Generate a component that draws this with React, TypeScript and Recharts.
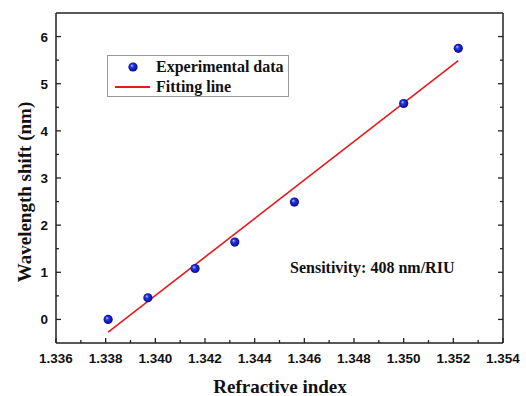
import React from 'react'
import { ScatterChart, Scatter, XAxis, YAxis } from 'recharts'

const refractiveIndex = [1.3381, 1.3397, 1.3416, 1.3432, 1.3456, 1.35, 1.3522]
const wavelengthShift = [0.0, 0.46, 1.08, 1.64, 2.49, 4.58, 5.75]

// linear fit end points (408 nm/RIU)
const fitIndex = [1.3381, 1.3522]
const fitShift = [-0.27, 5.49]

const xMajorTicks = [1.336, 1.338, 1.34, 1.342, 1.344, 1.346, 1.348, 1.35, 1.352, 1.354]
const xMinorTicks = [1.337, 1.339, 1.341, 1.343, 1.345, 1.347, 1.349, 1.351, 1.353]
const yMajorTicks = [0, 1, 2, 3, 4, 5, 6]
const yMinorTicks = [0.5, 1.5, 2.5, 3.5, 4.5, 5.5]

const expData = refractiveIndex.map((x, i) => ({ x, y: wavelengthShift[i] }))
const fitData = fitIndex.map((x, i) => ({ x, y: fitShift[i] }))

const xTicks = [...xMajorTicks, ...xMinorTicks]
const yTicks = [...yMajorTicks, ...yMinorTicks]

const SANS = '"Liberation Sans", Arial, sans-serif'
const SERIF = '"Liberation Serif", "Times New Roman", serif'
const AXIS = '#222'

const isMajor = (list: number[], v: number) => list.some((m) => Math.abs(m - v) < 1e-7)

const BottomTick = (props: any) => {
  const { x, y, payload } = props
  const major = isMajor(xMajorTicks, payload.value)
  return (
    <g>
      <line x1={x} x2={x} y1={y} y2={y - (major ? 5 : 3)} stroke={AXIS} strokeWidth={1.3} />
      {major && (
        <text x={x} y={y + 20} textAnchor="middle" fontFamily={SANS} fontWeight="bold" fontSize={13.5} fill="#111">
          {payload.value.toFixed(3)}
        </text>
      )}
    </g>
  )
}

const TopTick = (props: any) => {
  const { x, y, payload } = props
  const major = isMajor(xMajorTicks, payload.value)
  return <line x1={x} x2={x} y1={y} y2={y + (major ? 5 : 3)} stroke={AXIS} strokeWidth={1.3} />
}

const LeftTick = (props: any) => {
  const { x, y, payload } = props
  const major = isMajor(yMajorTicks, payload.value)
  return (
    <g>
      <line x1={x} x2={x + (major ? 5 : 3)} y1={y} y2={y} stroke={AXIS} strokeWidth={1.3} />
      {major && (
        <text x={x - 8} y={y + 5} textAnchor="end" fontFamily={SANS} fontWeight="bold" fontSize={13.5} fill="#111">
          {payload.value}
        </text>
      )}
    </g>
  )
}

const RightTick = (props: any) => {
  const { x, y, payload } = props
  const major = isMajor(yMajorTicks, payload.value)
  return <line x1={x} x2={x - (major ? 5 : 3)} y1={y} y2={y} stroke={AXIS} strokeWidth={1.3} />
}

const Ball = (props: any) => {
  const { cx, cy } = props
  if (cx == null || cy == null) return <g />
  return (
    <g>
      <defs>
        <radialGradient id="ballGrad" cx="50%" cy="50%" r="55%" fx="35%" fy="32%">
          <stop offset="0%" stopColor="#b8c4ff" />
          <stop offset="35%" stopColor="#2233e6" />
          <stop offset="100%" stopColor="#05057a" />
        </radialGradient>
      </defs>
      <circle cx={cx} cy={cy} r={4.6} fill="url(#ballGrad)" />
    </g>
  )
}

const LegendBox = () => (
  <svg width={182} height={42} style={{ display: 'block' }}>
    <rect x={0.5} y={0.5} width={181} height={41} fill="#fff" stroke="#999" />
    <Ball cx={26} cy={12} />
    <text x={49} y={17} fontFamily={SERIF} fontWeight="bold" fontSize={16} fill="#111">
      Experimental data
    </text>
    <line x1={8} x2={43} y1={32} y2={32} stroke="#e8191d" strokeWidth={1.8} />
    <text x={49} y={37} fontFamily={SERIF} fontWeight="bold" fontSize={16} fill="#111">
      Fitting line
    </text>
  </svg>
)

export default function App() {
  return (
    <div style={{ position: 'absolute', left: 0, top: 0, width: 526, height: 396, background: '#fff' }}>
      <ScatterChart width={526} height={396} margin={{ top: 0, right: 0, bottom: 0, left: 0 }}>
        <XAxis
          xAxisId="x"
          dataKey="x"
          type="number"
          domain={[1.336, 1.354]}
          allowDataOverflow
          ticks={xTicks}
          interval={0}
          height={53}
          tickSize={0}
          tickMargin={0}
          tickLine={false}
          tick={<BottomTick />}
          axisLine={{ stroke: AXIS, strokeWidth: 1.5 }}
          label={{
            content: () => (
              <text x={280} y={393} textAnchor="middle" fontFamily={SERIF} fontWeight="bold" fontSize={19} fill="#111">
                Refractive index
              </text>
            ),
          }}
        />
        <XAxis
          xAxisId="xt"
          orientation="top"
          type="number"
          domain={[1.336, 1.354]}
          allowDataOverflow
          ticks={xTicks}
          interval={0}
          height={13}
          tickSize={0}
          tickMargin={0}
          tickLine={false}
          tick={<TopTick />}
          axisLine={{ stroke: AXIS, strokeWidth: 1.5 }}
        />
        <YAxis
          yAxisId="y"
          dataKey="y"
          type="number"
          domain={[-0.5, 6.5]}
          allowDataOverflow
          ticks={yTicks}
          interval={0}
          width={56}
          tickSize={0}
          tickMargin={0}
          tickLine={false}
          tick={<LeftTick />}
          axisLine={{ stroke: AXIS, strokeWidth: 1.5 }}
          label={{
            content: () => (
              <text
                x={31}
                y={192}
                transform="rotate(-90 31 192)"
                textAnchor="middle"
                fontFamily={SERIF}
                fontWeight="bold"
                fontSize={19}
                fill="#111"
              >
                Wavelength shift (nm)
              </text>
            ),
          }}
        />
        <YAxis
          yAxisId="yr"
          orientation="right"
          type="number"
          domain={[-0.5, 6.5]}
          allowDataOverflow
          ticks={yTicks}
          interval={0}
          width={23}
          tickSize={0}
          tickMargin={0}
          tickLine={false}
          tick={<RightTick />}
          axisLine={{ stroke: AXIS, strokeWidth: 1.5 }}
        />
        <Scatter
          name="Fitting line"
          xAxisId="x"
          yAxisId="y"
          data={fitData}
          line={{ stroke: '#e8191d', strokeWidth: 1.6 }}
          shape={() => <g />}
          isAnimationActive={false}
        />
        <Scatter
          name="Experimental data"
          xAxisId="x"
          yAxisId="y"
          data={expData}
          shape={<Ball />}
          isAnimationActive={false}
        />
      </ScatterChart>
      <div style={{ position: 'absolute', left: 107, top: 55 }}>
        <LegendBox />
      </div>
      <div
        style={{
          position: 'absolute',
          left: 290,
          top: 258,
          fontFamily: SERIF,
          fontWeight: 'bold',
          fontSize: 16,
          color: '#111',
          whiteSpace: 'nowrap',
          lineHeight: '20px',
        }}
      >
        Sensitivity: 408 nm/RIU
      </div>
    </div>
  )
}
